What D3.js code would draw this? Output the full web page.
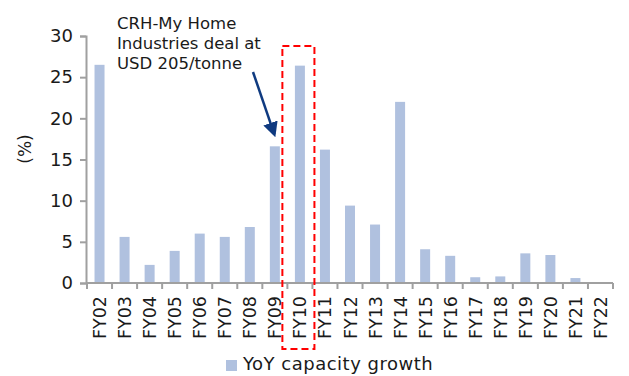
<!DOCTYPE html>
<html>
<head>
<meta charset="utf-8">
<script src="https://cdn.jsdelivr.net/npm/d3@7"></script>
<style>
  html, body { margin: 0; padding: 0; background: #fff; }
  svg { display: block; font-family: "DejaVu Sans", sans-serif; }
</style>
</head>
<body>
<svg id="chart" width="629" height="376"></svg>
<script>
// Fiscal years on the category axis
const years = ["FY02","FY03","FY04","FY05","FY06","FY07","FY08","FY09","FY10","FY11",
               "FY12","FY13","FY14","FY15","FY16","FY17","FY18","FY19","FY20","FY21","FY22"];
// Year-on-year capacity growth (%)
const growth = [26.5, 5.6, 2.2, 3.9, 6.0, 5.6, 6.8, 16.6, 26.4, 16.2,
                9.4, 7.1, 22.0, 4.1, 3.3, 0.7, 0.8, 3.6, 3.4, 0.6, 0];
const yTicks = [0, 5, 10, 15, 20, 25, 30];
const seriesName = "YoY capacity growth";
const noteLines = ["CRH-My Home", "Industries deal at", "USD 205/tonne"];
const highlightYear = "FY10";
const pointedYear = "FY09";

const svg = d3.select("#chart");
const left = 86;
const xb = d3.scaleBand().domain(years).range([left + 1, 613]);
const y = d3.scaleLinear().domain([0, 30]).range([283, 36]);

const axisColor = "#a0a0a0";
const barColor = "#b0c1df";
const textColor = "#1a1a1a";
const arrowColor = "#0f3a80";

// Bars
svg.append("g").selectAll("rect").data(years).join("rect")
  .attr("x", d => xb(d) + xb.bandwidth() / 2 - 5)
  .attr("width", 10)
  .attr("y", (d, i) => y(growth[i]))
  .attr("height", (d, i) => y(0) - y(growth[i]))
  .attr("fill", barColor);

// Y axis
const yAxis = svg.append("g").attr("transform", `translate(${left},0)`)
  .call(d3.axisLeft(y).tickValues(yTicks).tickSize(6).tickPadding(7));
yAxis.select(".domain").attr("stroke", axisColor).attr("stroke-width", 2);
yAxis.selectAll(".tick line").attr("stroke", axisColor).attr("stroke-width", 2);
yAxis.selectAll(".tick text").attr("font-size", 18).attr("fill", textColor)
  .attr("font-family", "'DejaVu Sans', sans-serif");

// X axis with ticks at category boundaries
const xg = svg.append("g");
xg.append("line").attr("x1", left).attr("x2", 613).attr("y1", 283).attr("y2", 283)
  .attr("stroke", axisColor).attr("stroke-width", 2);
const bounds = years.map(d => xb(d)).concat([xb(years[years.length - 1]) + xb.bandwidth()]);
xg.selectAll("line.tk").data(bounds).join("line").attr("class", "tk")
  .attr("x1", d => d).attr("x2", d => d).attr("y1", 283).attr("y2", 289)
  .attr("stroke", axisColor).attr("stroke-width", 2);
xg.selectAll("text").data(years).join("text")
  .attr("transform", d => `translate(${xb(d) + xb.bandwidth() / 2 + 6.5},296) rotate(-90)`)
  .attr("text-anchor", "end")
  .attr("font-size", 17.5).attr("fill", textColor)
  .text(d => d);

// Y axis title
svg.append("text").attr("transform", "translate(31,149) rotate(-90)")
  .attr("text-anchor", "middle").attr("font-size", 17).attr("fill", textColor).text("(%)");

// Highlight box around FY10
const hx = xb(highlightYear);
svg.append("rect")
  .attr("x", hx - 5).attr("y", 46)
  .attr("width", xb.bandwidth() + 7).attr("height", 303)
  .attr("fill", "none").attr("stroke", "#ff0000").attr("stroke-width", 2)
  .attr("stroke-dasharray", "7,4");

// Annotation text
noteLines.forEach((t, i) =>
  svg.append("text").attr("x", 117).attr("y", 29 + i * 20)
    .attr("font-size", 16.5).attr("fill", textColor).text(t));

// Arrow pointing to FY09
const defs = svg.append("defs");
defs.append("marker").attr("id", "ah").attr("viewBox", "0 0 10 10")
  .attr("refX", 8).attr("refY", 5).attr("markerWidth", 6).attr("markerHeight", 6)
  .attr("markerUnits", "strokeWidth").attr("orient", "auto")
  .append("path").attr("d", "M0,0 L10,5 L0,10 Z").attr("fill", arrowColor);
const px = xb(pointedYear) + xb.bandwidth() / 2;
svg.append("line")
  .attr("x1", 253).attr("y1", 72)
  .attr("x2", px - 0.5).attr("y2", y(growth[years.indexOf(pointedYear)]) - 12)
  .attr("stroke", arrowColor).attr("stroke-width", 2.5)
  .attr("marker-end", "url(#ah)");

// Legend
svg.append("rect").attr("x", 226).attr("y", 360).attr("width", 11).attr("height", 11).attr("fill", barColor);
svg.append("text").attr("x", 243).attr("y", 370).attr("font-size", 18)
  .attr("letter-spacing", 0.5).attr("fill", textColor).text(seriesName);
</script>
</body>
</html>
